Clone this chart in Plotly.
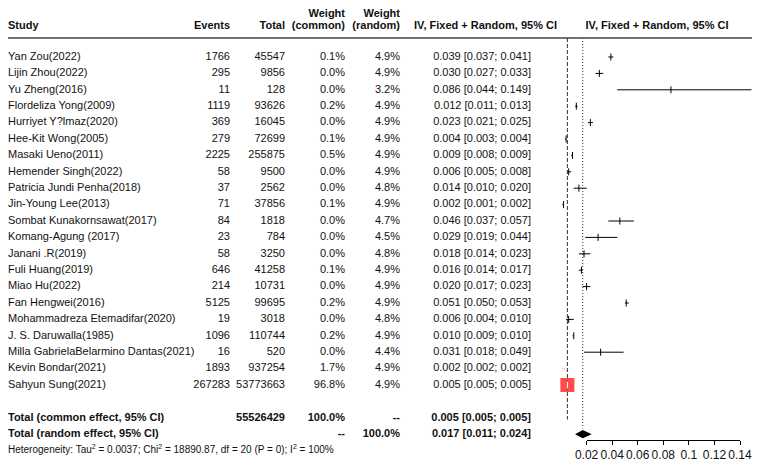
import plotly.graph_objects as go

# ── Data ────────────────────────────────────────────────────────
studies = [
    "Yan Zou(2022)", "Lijin Zhou(2022)", "Yu Zheng(2016)", "Flordeliza Yong(2009)",
    "Hurriyet Y?lmaz(2020)", "Hee-Kit Wong(2005)", "Masaki Ueno(2011)",
    "Hemender Singh(2022)", "Patricia Jundi Penha(2018)", "Jin-Young Lee(2013)",
    "Sombat Kunakornsawat(2017)", "Komang-Agung (2017)", "Janani .R(2019)",
    "Fuli Huang(2019)", "Miao Hu(2022)", "Fan Hengwei(2016)",
    "Mohammadreza Etemadifar(2020)", "J. S. Daruwalla(1985)",
    "Milla GabrielaBelarmino Dantas(2021)", "Kevin Bondar(2021)", "Sahyun Sung(2021)",
]
events = [1766, 295, 11, 1119, 369, 279, 2225, 58, 37, 71, 84, 23, 58, 646, 214,
          5125, 19, 1096, 16, 1893, 267283]
totals = [45547, 9856, 128, 93626, 16045, 72699, 255875, 9500, 2562, 37856, 1818,
          784, 3250, 41258, 10731, 99695, 3018, 110744, 520, 937254, 53773663]
w_common = [0.1, 0.0, 0.0, 0.2, 0.0, 0.1, 0.5, 0.0, 0.0, 0.1, 0.0, 0.0, 0.0, 0.1,
            0.0, 0.2, 0.0, 0.2, 0.0, 1.7, 96.8]
w_random = [4.9, 4.9, 3.2, 4.9, 4.9, 4.9, 4.9, 4.9, 4.8, 4.9, 4.7, 4.5, 4.8, 4.9,
            4.9, 4.9, 4.8, 4.9, 4.4, 4.9, 4.9]
est = [0.039, 0.030, 0.086, 0.012, 0.023, 0.004, 0.009, 0.006, 0.014, 0.002, 0.046,
       0.029, 0.018, 0.016, 0.020, 0.051, 0.006, 0.010, 0.031, 0.002, 0.005]
lo = [0.037, 0.027, 0.044, 0.011, 0.021, 0.003, 0.008, 0.005, 0.010, 0.001, 0.037,
      0.019, 0.014, 0.014, 0.017, 0.050, 0.004, 0.009, 0.018, 0.002, 0.005]
hi = [0.041, 0.033, 0.149, 0.013, 0.025, 0.004, 0.009, 0.008, 0.020, 0.002, 0.057,
      0.044, 0.023, 0.017, 0.023, 0.053, 0.010, 0.010, 0.049, 0.002, 0.005]

total_n = 55526429
common_est, common_lo, common_hi = 0.005, 0.005, 0.005
random_est, random_lo, random_hi = 0.017, 0.011, 0.024
het_text = ("Heterogeneity: Tau<sup>2</sup> = 0.0037; Chi<sup>2</sup> = 18890.87, "
            "df = 20 (P = 0); I<sup>2</sup> = 100%")

tick_vals = [0.02, 0.04, 0.06, 0.08, 0.10, 0.12, 0.14]
tick_text = ["0.02", "0.04", "0.06", "0.08", "0.1", "0.12", "0.14"]

# ── Layout helpers ──────────────────────────────────────────────
FONT = "Liberation Sans, Arial, sans-serif"
INK = "#111111"
OFF = 8                          # page body margin, the figure starts 8px in
W, H = 760 - OFF, 469 - 2 * OFF  # keep the page from scrolling
x0_px, px_per = 561.0, 1278.6    # page px of effect 0, px per unit
row0_px, row_h = 57.0, 16.4      # page px of first study row, row height
axis_px = 439.5                  # page px of the bottom axis line

n = len(studies)
rows = list(range(n))
r_common, r_random, r_het = n + 1, n + 2, n + 3
r_head1 = (14.5 - row0_px) / row_h
r_head2 = (26.5 - row0_px) / row_h
r_rule = (38 - row0_px) / row_h

fig = go.Figure()


def text_col(x, ys, texts, pos, size=11, color=INK):
    fig.add_trace(go.Scatter(
        x=[x] * len(ys), y=ys, text=texts, mode="text", textposition=pos,
        textfont=dict(family=FONT, size=size, color=color),
        xaxis="x2", hoverinfo="skip", showlegend=False,
    ))


def ci_str(e, l, h):
    return f"{e:.3f} [{l:.3f}; {h:.3f}]"


# text table
text_col(8, rows, studies, "middle right")
text_col(230, rows, [str(v) for v in events], "middle left")
text_col(285, rows, [str(v) for v in totals], "middle left")
text_col(345, rows, [f"{v:.1f}%" for v in w_common], "middle left")
text_col(400, rows, [f"{v:.1f}%" for v in w_random], "middle left")
text_col(531, rows, [ci_str(e, l, h) for e, l, h in zip(est, lo, hi)], "middle left")

# headers
text_col(8, [r_head2], ["<b>Study</b>"], "middle right")
text_col(230, [r_head2], ["<b>Events</b>"], "middle left")
text_col(285, [r_head2], ["<b>Total</b>"], "middle left")
text_col(345, [r_head1, r_head2], ["<b>Weight</b>", "<b>(common)</b>"], "middle left")
text_col(400, [r_head1, r_head2], ["<b>Weight</b>", "<b>(random)</b>"], "middle left")
text_col(557, [r_head2], ["<b>IV, Fixed + Random, 95% CI</b>"], "middle left")
text_col(657, [r_head2], ["<b>IV, Fixed + Random, 95% CI</b>"], "middle center")

# totals
text_col(8, [r_common, r_random],
         ["<b>Total (common effect, 95% CI)</b>", "<b>Total (random effect, 95% CI)</b>"],
         "middle right")
text_col(285, [r_common], [f"<b>{total_n}</b>"], "middle left")
text_col(345, [r_common, r_random], ["<b>100.0%</b>", "<b>--</b>"], "middle left")
text_col(400, [r_common, r_random], ["<b>--</b>", "<b>100.0%</b>"], "middle left")
text_col(531, [r_common, r_random],
         [f"<b>{ci_str(common_est, common_lo, common_hi)}</b>",
          f"<b>{ci_str(random_est, random_lo, random_hi)}</b>"], "middle left")
text_col(8, [r_het], [het_text], "middle right", size=10)

# ── Forest part ─────────────────────────────────────────────────
# reference lines
fig.add_trace(go.Scatter(
    x=[common_est, common_est], y=[r_rule, r_common + 0.1], mode="lines",
    line=dict(color="#333333", width=1, dash="4px,2px"),
    hoverinfo="skip", showlegend=False))
fig.add_trace(go.Scatter(
    x=[random_est, random_est], y=[r_rule, r_random - 0.35], mode="lines",
    line=dict(color="#333333", width=1, dash="1px,2px"),
    hoverinfo="skip", showlegend=False))

# confidence intervals
ci_x, ci_y = [], []
for r, l, h in zip(rows, lo, hi):
    ci_x += [l, h, None]
    ci_y += [r, r, None]
fig.add_trace(go.Scatter(x=ci_x, y=ci_y, mode="lines",
                         line=dict(color="black", width=1),
                         hoverinfo="skip", showlegend=False))

# weight squares (area ~ common weight)
max_w = max(w_common)
sizes = [14 * (w / max_w) ** 0.5 for w in w_common]
fig.add_trace(go.Scatter(
    x=est, y=rows, mode="markers",
    marker=dict(symbol="square", size=sizes, color="#FF0000", line=dict(width=0)),
    hoverinfo="skip", showlegend=False))

# point estimate ticks
fig.add_trace(go.Scatter(
    x=est, y=rows, mode="markers",
    marker=dict(symbol="line-ns", size=5,
                line=dict(width=1, color=["white" if w > 1 else "black" for w in w_common])),
    hoverinfo="skip", showlegend=False))

# pooled diamonds
for e, l, h, r in [(common_est, common_lo, common_hi, r_common),
                   (random_est, random_lo, random_hi, r_random)]:
    fig.add_trace(go.Scatter(
        x=[l, e, h, e, l], y=[r, r - 0.25, r, r + 0.25, r], mode="lines",
        fill="toself", fillcolor="black", line=dict(width=0, color="black"),
        hoverinfo="skip", showlegend=False))

# invisible trace that carries the bottom axis
fig.add_trace(go.Scatter(x=tick_vals, y=[r_het] * len(tick_vals), mode="markers",
                         marker=dict(opacity=0), xaxis="x3",
                         hoverinfo="skip", showlegend=False))

# header rule
fig.add_shape(type="line", xref="paper", x0=0, x1=1, yref="y", y0=r_rule, y1=r_rule,
              line=dict(color="#444444", width=1.5))

page_l, page_r = OFF, OFF + W
page_t, page_b = OFF, OFF + H
fig.update_layout(
    width=W, height=H,
    margin=dict(l=0, r=0, t=0, b=0, autoexpand=False),
    paper_bgcolor="white", plot_bgcolor="rgba(0,0,0,0)",
    font=dict(family=FONT, color=INK),
    xaxis=dict(range=[(page_l - x0_px) / px_per, (page_r - x0_px) / px_per],
               visible=False, domain=[0, 1], automargin=False),
    xaxis2=dict(range=[page_l, page_r], visible=False, overlaying="x", automargin=False),
    xaxis3=dict(range=[0.02, 0.14],
                domain=[(x0_px + 0.02 * px_per - page_l) / W,
                        (x0_px + 0.14 * px_per - page_l) / W],
                anchor="free", position=(page_b - axis_px) / H,
                showline=True, linecolor="black", linewidth=1,
                ticks="outside", ticklen=4, tickcolor="black", tickangle=0,
                tickvals=tick_vals, ticktext=tick_text,
                tickfont=dict(family=FONT, size=12, color=INK),
                showgrid=False, zeroline=False, automargin=False),
    yaxis=dict(range=[(page_b - row0_px) / row_h, (page_t - row0_px) / row_h],
               visible=False, domain=[0, 1], automargin=False),
)

fig.write_html("out.html")
